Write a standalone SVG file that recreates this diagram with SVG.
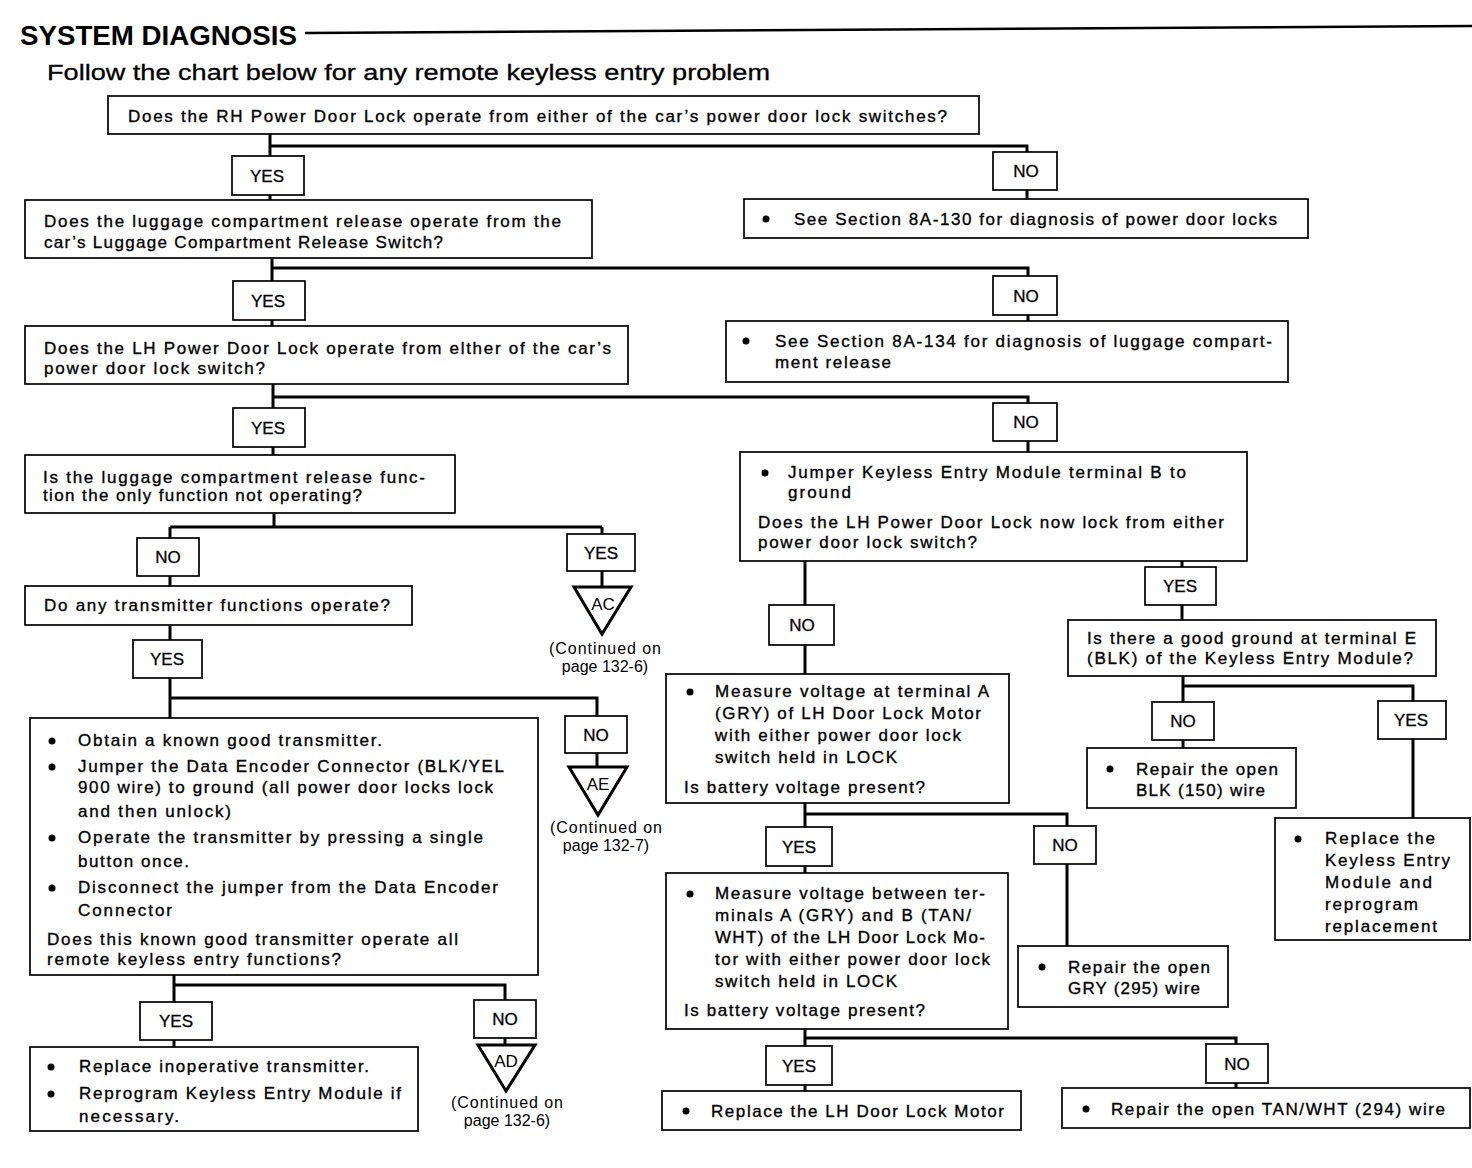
<svg xmlns="http://www.w3.org/2000/svg" width="1472" height="1168" viewBox="0 0 1472 1168">
<style>
text{font-family:"Liberation Sans",Arial,sans-serif;fill:#000}
.t{font-size:17px;stroke:#000;stroke-width:0.35}
.lb{font-size:17px;text-anchor:middle;stroke:#000;stroke-width:0.3}
.bx{fill:#fff;stroke:#000;stroke-width:1.7}
.cn{fill:none;stroke:#000;stroke-width:3}
.tri{fill:#fff;stroke:#000;stroke-width:3;stroke-linejoin:miter}
.tl{font-size:16px;text-anchor:middle}
.tg{font-size:17px;text-anchor:middle}
</style>
<defs>
<circle id="b" r="3.5" fill="#000"/>
</defs>
<rect width="1472" height="1168" fill="#fff"/>
<g id="header">
<text x="20" y="45" font-size="28" font-weight="bold" textLength="277" lengthAdjust="spacingAndGlyphs">SYSTEM DIAGNOSIS</text>
<line x1="305" y1="33" x2="1472" y2="26" stroke="#000" stroke-width="2.5"/>
<text x="47" y="80" font-size="22" stroke="#000" stroke-width="0.3" textLength="723" lengthAdjust="spacingAndGlyphs">Follow the chart below for any remote keyless entry problem</text>
</g>
<g id="connectors">
<path class="cn" d="M270 134V156M270 146H1027V152M270 195V200M1027 190V199"/>
<path class="cn" d="M272 258V281M272 268H1028V276M272 320V326M1028 315V321"/>
<path class="cn" d="M273 384V408M273 397H1028V403M273 447V455M1028 441V452"/>
<path class="cn" d="M274 513V527M170 527H602M170 527V538M602 527V534M170 576V586M602 571V587"/>
<path class="cn" d="M170 625V640M170 678V718M170 698H597V716M597 753V767"/>
<path class="cn" d="M174 975V1002M174 985H505V1000M174 1040V1047M505 1038V1045"/>
<path class="cn" d="M805 561V605M805 645V674M1182 561V567M1182 605V620"/>
<path class="cn" d="M1183 676V702M1183 686H1413V701M1183 740V748M1413 739V818"/>
<path class="cn" d="M805 803V827M805 814H1067V826M805 866V873M1067 864V946"/>
<path class="cn" d="M805 1029V1046M805 1038H1236V1044M805 1085V1091M1236 1083V1088"/>
</g>
<g id="q1">
<rect class="bx" x="108" y="96" width="871" height="38"/>
<text class="t" x="128" y="122" textLength="819" lengthAdjust="spacing">Does the RH Power Door Lock operate from either of the car’s power door lock switches?</text>
</g>
<g id="yes1"><rect class="bx" x="232" y="156" width="72" height="39"/><text class="lb" x="267" y="182">YES</text></g>
<g id="no1"><rect class="bx" x="993" y="152" width="64" height="38"/><text class="lb" x="1026" y="177">NO</text></g>
<g id="a1">
<rect class="bx" x="744" y="199" width="564" height="39"/>
<use href="#b" x="766" y="219"/>
<text class="t" x="794" y="225" textLength="483" lengthAdjust="spacing">See Section 8A-130 for diagnosis of power door locks</text>
</g>
<g id="q2">
<rect class="bx" x="25" y="200" width="567" height="58"/>
<text class="t" x="44" y="227" textLength="517" lengthAdjust="spacing">Does the luggage compartment release operate from the</text>
<text class="t" x="44" y="248" textLength="399" lengthAdjust="spacing">car’s Luggage Compartment Release Switch?</text>
</g>
<g id="yes2"><rect class="bx" x="233" y="281" width="72" height="39"/><text class="lb" x="268" y="307">YES</text></g>
<g id="no2"><rect class="bx" x="993" y="276" width="64" height="39"/><text class="lb" x="1026" y="302">NO</text></g>
<g id="a2">
<rect class="bx" x="726" y="321" width="562" height="61"/>
<use href="#b" x="746" y="341"/>
<text class="t" x="775" y="347" textLength="497" lengthAdjust="spacing">See Section 8A-134 for diagnosis of luggage compart-</text>
<text class="t" x="775" y="368" textLength="116" lengthAdjust="spacing">ment release</text>
</g>
<g id="q3">
<rect class="bx" x="25" y="326" width="603" height="58"/>
<text class="t" x="44" y="354" textLength="567" lengthAdjust="spacing">Does the LH Power Door Lock operate from elther of the car’s</text>
<text class="t" x="44" y="374" textLength="221" lengthAdjust="spacing">power door lock switch?</text>
</g>
<g id="yes3"><rect class="bx" x="233" y="408" width="72" height="39"/><text class="lb" x="268" y="434">YES</text></g>
<g id="no3"><rect class="bx" x="993" y="403" width="64" height="38"/><text class="lb" x="1026" y="428">NO</text></g>
<g id="q4">
<rect class="bx" x="25" y="455" width="430" height="58"/>
<text class="t" x="43" y="483" textLength="382" lengthAdjust="spacing">Is the luggage compartment release func-</text>
<text class="t" x="43" y="501" textLength="319" lengthAdjust="spacing">tion the only function not operating?</text>
</g>
<g id="no4"><rect class="bx" x="137" y="538" width="62" height="38"/><text class="lb" x="168" y="563">NO</text></g>
<g id="yes4"><rect class="bx" x="567" y="534" width="68" height="37"/><text class="lb" x="601" y="559">YES</text></g>
<g id="ac">
<polygon class="tri" points="574,587 631,587 602,634"/>
<text class="tg" x="603" y="610">AC</text>
<text class="tl" x="605" y="654" textLength="112" lengthAdjust="spacing">(Continued on</text>
<text class="tl" x="605" y="672">page 132-6)</text>
</g>
<g id="q5">
<rect class="bx" x="25" y="586" width="387" height="39"/>
<text class="t" x="44" y="611" textLength="346" lengthAdjust="spacing">Do any transmitter functions operate?</text>
</g>
<g id="yes5"><rect class="bx" x="133" y="640" width="69" height="38"/><text class="lb" x="167" y="665">YES</text></g>
<g id="no5"><rect class="bx" x="565" y="716" width="62" height="37"/><text class="lb" x="596" y="741">NO</text></g>
<g id="ae">
<polygon class="tri" points="569,767 627,767 598,815"/>
<text class="tg" x="598" y="790">AE</text>
<text class="tl" x="606" y="833" textLength="112" lengthAdjust="spacing">(Continued on</text>
<text class="tl" x="606" y="851">page 132-7)</text>
</g>
<g id="q6">
<rect class="bx" x="30" y="718" width="508" height="257"/>
<use href="#b" x="52" y="741"/>
<text class="t" x="78" y="746" textLength="304" lengthAdjust="spacing">Obtain a known good transmitter.</text>
<use href="#b" x="52" y="767"/>
<text class="t" x="78" y="772" textLength="426" lengthAdjust="spacing">Jumper the Data Encoder Connector (BLK/YEL</text>
<text class="t" x="78" y="793" textLength="415" lengthAdjust="spacing">900 wire) to ground (all power door locks lock</text>
<text class="t" x="78" y="817" textLength="153" lengthAdjust="spacing">and then unlock)</text>
<use href="#b" x="52" y="838"/>
<text class="t" x="78" y="843" textLength="405" lengthAdjust="spacing">Operate the transmitter by pressing a single</text>
<text class="t" x="78" y="867" textLength="111" lengthAdjust="spacing">button once.</text>
<use href="#b" x="52" y="888"/>
<text class="t" x="78" y="893" textLength="420" lengthAdjust="spacing">Disconnect the jumper from the Data Encoder</text>
<text class="t" x="78" y="916" textLength="94" lengthAdjust="spacing">Connector</text>
<text class="t" x="47" y="945" textLength="411" lengthAdjust="spacing">Does this known good transmitter operate all</text>
<text class="t" x="47" y="965" textLength="294" lengthAdjust="spacing">remote keyless entry functions?</text>
</g>
<g id="yes6"><rect class="bx" x="140" y="1002" width="72" height="38"/><text class="lb" x="176" y="1027">YES</text></g>
<g id="no6"><rect class="bx" x="474" y="1000" width="62" height="38"/><text class="lb" x="505" y="1025">NO</text></g>
<g id="ad">
<polygon class="tri" points="478,1045 535,1045 506,1091"/>
<text class="tg" x="506" y="1067">AD</text>
<text class="tl" x="507" y="1108" textLength="112" lengthAdjust="spacing">(Continued on</text>
<text class="tl" x="507" y="1126">page 132-6)</text>
</g>
<g id="a6">
<rect class="bx" x="30" y="1047" width="388" height="84"/>
<use href="#b" x="51" y="1067"/>
<text class="t" x="79" y="1072" textLength="290" lengthAdjust="spacing">Replace inoperative transmitter.</text>
<use href="#b" x="51" y="1094"/>
<text class="t" x="79" y="1099" textLength="322" lengthAdjust="spacing">Reprogram Keyless Entry Module if</text>
<text class="t" x="79" y="1122" textLength="100" lengthAdjust="spacing">necessary.</text>
</g>
<g id="r1">
<rect class="bx" x="740" y="452" width="507" height="109"/>
<use href="#b" x="765" y="473"/>
<text class="t" x="788" y="478" textLength="398" lengthAdjust="spacing">Jumper Keyless Entry Module terminal B to</text>
<text class="t" x="788" y="498" textLength="63" lengthAdjust="spacing">ground</text>
<text class="t" x="758" y="528" textLength="466" lengthAdjust="spacing">Does the LH Power Door Lock now lock from either</text>
<text class="t" x="758" y="548" textLength="219" lengthAdjust="spacing">power door lock switch?</text>
</g>
<g id="rno1"><rect class="bx" x="769" y="605" width="65" height="40"/><text class="lb" x="802" y="631">NO</text></g>
<g id="ryes1"><rect class="bx" x="1145" y="567" width="71" height="38"/><text class="lb" x="1180" y="592">YES</text></g>
<g id="r2">
<rect class="bx" x="1068" y="620" width="368" height="56"/>
<text class="t" x="1087" y="644" textLength="329" lengthAdjust="spacing">Is there a good ground at terminal E</text>
<text class="t" x="1087" y="664" textLength="326" lengthAdjust="spacing">(BLK) of the Keyless Entry Module?</text>
</g>
<g id="rno2"><rect class="bx" x="1152" y="702" width="62" height="38"/><text class="lb" x="1183" y="727">NO</text></g>
<g id="ryes2"><rect class="bx" x="1378" y="701" width="68" height="38"/><text class="lb" x="1411" y="726">YES</text></g>
<g id="r3">
<rect class="bx" x="1087" y="748" width="209" height="60"/>
<use href="#b" x="1110" y="769"/>
<text class="t" x="1136" y="775" textLength="142" lengthAdjust="spacing">Repair the open</text>
<text class="t" x="1136" y="796" textLength="129" lengthAdjust="spacing">BLK (150) wire</text>
</g>
<g id="r4">
<rect class="bx" x="1275" y="818" width="195" height="122"/>
<use href="#b" x="1298" y="839"/>
<text class="t" x="1325" y="844" textLength="110" lengthAdjust="spacing">Replace the</text>
<text class="t" x="1325" y="866" textLength="125" lengthAdjust="spacing">Keyless Entry</text>
<text class="t" x="1325" y="888" textLength="107" lengthAdjust="spacing">Module and</text>
<text class="t" x="1325" y="910" textLength="93" lengthAdjust="spacing">reprogram</text>
<text class="t" x="1325" y="932" textLength="112" lengthAdjust="spacing">replacement</text>
</g>
<g id="m1">
<rect class="bx" x="666" y="674" width="343" height="129"/>
<use href="#b" x="690" y="692"/>
<text class="t" x="715" y="697" textLength="274" lengthAdjust="spacing">Measure voltage at terminal A</text>
<text class="t" x="715" y="719" textLength="266" lengthAdjust="spacing">(GRY) of LH Door Lock Motor</text>
<text class="t" x="715" y="741" textLength="246" lengthAdjust="spacing">with either power door lock</text>
<text class="t" x="715" y="763" textLength="182" lengthAdjust="spacing">switch held in LOCK</text>
<text class="t" x="684" y="793" textLength="241" lengthAdjust="spacing">Is battery voltage present?</text>
</g>
<g id="myes1"><rect class="bx" x="766" y="827" width="66" height="39"/><text class="lb" x="799" y="853">YES</text></g>
<g id="mno1"><rect class="bx" x="1034" y="826" width="62" height="38"/><text class="lb" x="1065" y="851">NO</text></g>
<g id="m2">
<rect class="bx" x="1018" y="946" width="210" height="61"/>
<use href="#b" x="1042" y="967"/>
<text class="t" x="1068" y="973" textLength="142" lengthAdjust="spacing">Repair the open</text>
<text class="t" x="1068" y="994" textLength="132" lengthAdjust="spacing">GRY (295) wire</text>
</g>
<g id="m3">
<rect class="bx" x="666" y="873" width="342" height="156"/>
<use href="#b" x="690" y="894"/>
<text class="t" x="715" y="899" textLength="270" lengthAdjust="spacing">Measure voltage between ter-</text>
<text class="t" x="715" y="921" textLength="256" lengthAdjust="spacing">minals A (GRY) and B (TAN/</text>
<text class="t" x="715" y="943" textLength="270" lengthAdjust="spacing">WHT) of the LH Door Lock Mo-</text>
<text class="t" x="715" y="965" textLength="275" lengthAdjust="spacing">tor with either power door lock</text>
<text class="t" x="715" y="987" textLength="182" lengthAdjust="spacing">switch held in LOCK</text>
<text class="t" x="684" y="1016" textLength="241" lengthAdjust="spacing">Is battery voltage present?</text>
</g>
<g id="myes2"><rect class="bx" x="766" y="1046" width="66" height="39"/><text class="lb" x="799" y="1072">YES</text></g>
<g id="mno2"><rect class="bx" x="1206" y="1044" width="62" height="39"/><text class="lb" x="1237" y="1070">NO</text></g>
<g id="m4">
<rect class="bx" x="662" y="1091" width="359" height="39"/>
<use href="#b" x="686" y="1111"/>
<text class="t" x="711" y="1117" textLength="293" lengthAdjust="spacing">Replace the LH Door Lock Motor</text>
</g>
<g id="m5">
<rect class="bx" x="1062" y="1088" width="408" height="40"/>
<use href="#b" x="1086" y="1109"/>
<text class="t" x="1111" y="1115" textLength="334" lengthAdjust="spacing">Repair the open TAN/WHT (294) wire</text>
</g>
</svg>
